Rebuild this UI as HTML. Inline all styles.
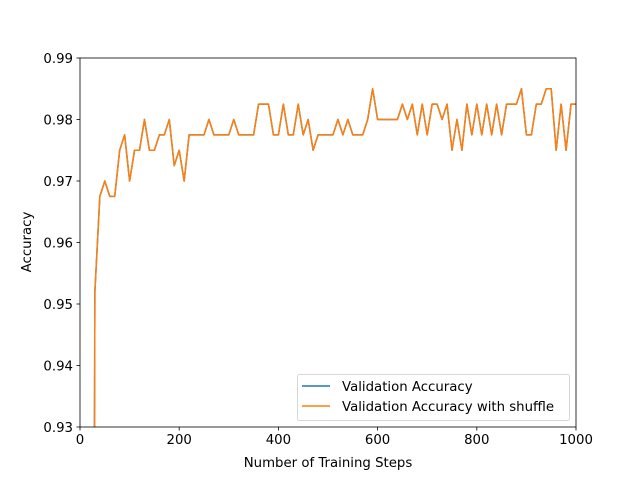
<!DOCTYPE html>
<html><head><meta charset="utf-8"><style>
html,body{margin:0;padding:0;background:#fff;width:640px;height:480px;overflow:hidden;}
#wrap{position:relative;width:640px;height:480px;overflow:hidden;}
svg{display:block;font-family:"DejaVu Sans","Liberation Sans",sans-serif;overflow:hidden;}
</style></head><body>
<div id="wrap">
<svg id="chart" width="640" height="480" style="position:absolute;left:0;top:0">
<rect width="640" height="480" fill="#fff"/>
</svg>
<svg style="position:absolute;left:0;top:0" width="640" height="480">
<text x="328" y="467" font-size="13.3" text-anchor="middle" font-family="DejaVu Sans, Liberation Sans, sans-serif">Number of Training Steps</text>
<text transform="translate(31,242) rotate(-90)" font-size="13.3" text-anchor="middle" font-family="DejaVu Sans, Liberation Sans, sans-serif">Accuracy</text>
<g font-family="DejaVu Sans, Liberation Sans, sans-serif" font-size="13.3">
<rect x="297.5" y="374.5" width="272" height="46" rx="2" fill="#fff" fill-opacity="0.8" stroke="#ccc" stroke-width="0.8"/>
<g>
<line x1="302" x2="330" y1="386" y2="386" stroke="#1f77b4" stroke-width="1.5"/>
<text x="342" y="391">Validation Accuracy</text></g>
<g>
<line x1="302" x2="330" y1="406" y2="406" stroke="#ff7f0e" stroke-width="1.5"/>
<text x="342" y="411">Validation Accuracy with shuffle</text></g>
</g>
</svg>
</div>
<script>
const steps = [29,30,40,50,60,70,80,90,100,110,120,130,140,150,160,170,180,190,200,210,220,230,240,250,260,270,280,290,300,310,320,330,340,350,360,370,380,390,400,410,420,430,440,450,460,470,480,490,500,510,520,530,540,550,560,570,580,590,600,610,620,630,640,650,660,670,680,690,700,710,720,730,740,750,760,770,780,790,800,810,820,830,840,850,860,870,880,890,900,910,920,930,940,950,960,970,980,990,1000];
const accuracy = [0.5,0.952,0.9675,0.97,0.9675,0.9675,0.975,0.9775,0.97,0.975,0.975,0.98,0.975,0.975,0.9775,0.9775,0.98,0.9725,0.975,0.97,0.9775,0.9775,0.9775,0.9775,0.98,0.9775,0.9775,0.9775,0.9775,0.98,0.9775,0.9775,0.9775,0.9775,0.9825,0.9825,0.9825,0.9775,0.9775,0.9825,0.9775,0.9775,0.9825,0.9775,0.98,0.975,0.9775,0.9775,0.9775,0.9775,0.98,0.9775,0.98,0.9775,0.9775,0.9775,0.98,0.985,0.98,0.98,0.98,0.98,0.98,0.9825,0.98,0.9825,0.9775,0.9825,0.9775,0.9825,0.9825,0.98,0.9825,0.975,0.98,0.975,0.9825,0.9775,0.9825,0.9775,0.9825,0.9775,0.9825,0.9775,0.9825,0.9825,0.9825,0.985,0.9775,0.9775,0.9825,0.9825,0.985,0.985,0.975,0.9825,0.975,0.9825,0.9825];
const accuracyShuffle = accuracy.slice();
const xTicks = [0,200,400,600,800,1000];
const yTicks = [0.93,0.94,0.95,0.96,0.97,0.98,0.99];
const yTickLabels = ["0.93","0.94","0.95","0.96","0.97","0.98","0.99"];

const L=80,R=576,T=58,B=427, xMin=0,xMax=1000,yMin=0.93,yMax=0.99;
const xs=v=>L+(v-xMin)/(xMax-xMin)*(R-L);
const ys=v=>Math.min(B+40, B-(v-yMin)/(yMax-yMin)*(B-T));
const NS="http://www.w3.org/2000/svg";
const svg=document.getElementById('chart');
function mk(tag,attrs,parent){const e=document.createElementNS(NS,tag);for(const k in attrs)e.setAttribute(k,attrs[k]);(parent||svg).appendChild(e);return e;}

const defs=mk('defs',{});
const cp=mk('clipPath',{id:'clip'},defs);
mk('rect',{x:L,y:T,width:R-L,height:B-T},cp);

function series(vals,color,name){
  const d=steps.map((s,i)=>(i?'L':'M')+xs(s).toFixed(2)+' '+ys(vals[i]).toFixed(2)).join(' ');
  const p=mk('path',{d:d,fill:'none',stroke:color,'stroke-width':1.5,'stroke-linejoin':'round','clip-path':'url(#clip)'});
  
  
}
series(accuracy,'#1f77b4','validation-accuracy-line');
series(accuracyShuffle,'#ff7f0e','validation-accuracy-shuffle-line');

const frame=mk('rect',{x:L,y:T,width:R-L,height:B-T,fill:'none',stroke:'#000','stroke-width':0.8});



xTicks.forEach(v=>{
  const x=xs(v);
  mk('line',{x1:x,x2:x,y1:B,y2:B+3.5,stroke:'#000','stroke-width':0.8});
  const t=mk('text',{x:x,y:B+17,'font-size':13.3,'text-anchor':'middle',fill:'#000'});
  t.textContent=v;
  
  
});
yTicks.forEach((v,i)=>{
  const y=ys(v);
  mk('line',{x1:L-3.5,x2:L,y1:y,y2:y,stroke:'#000','stroke-width':0.8});
  const t=mk('text',{x:L-7,y:y+5,'font-size':13.3,'text-anchor':'end',fill:'#000'});
  t.textContent=yTickLabels[i];
  
  
});
</script>
</body></html>
